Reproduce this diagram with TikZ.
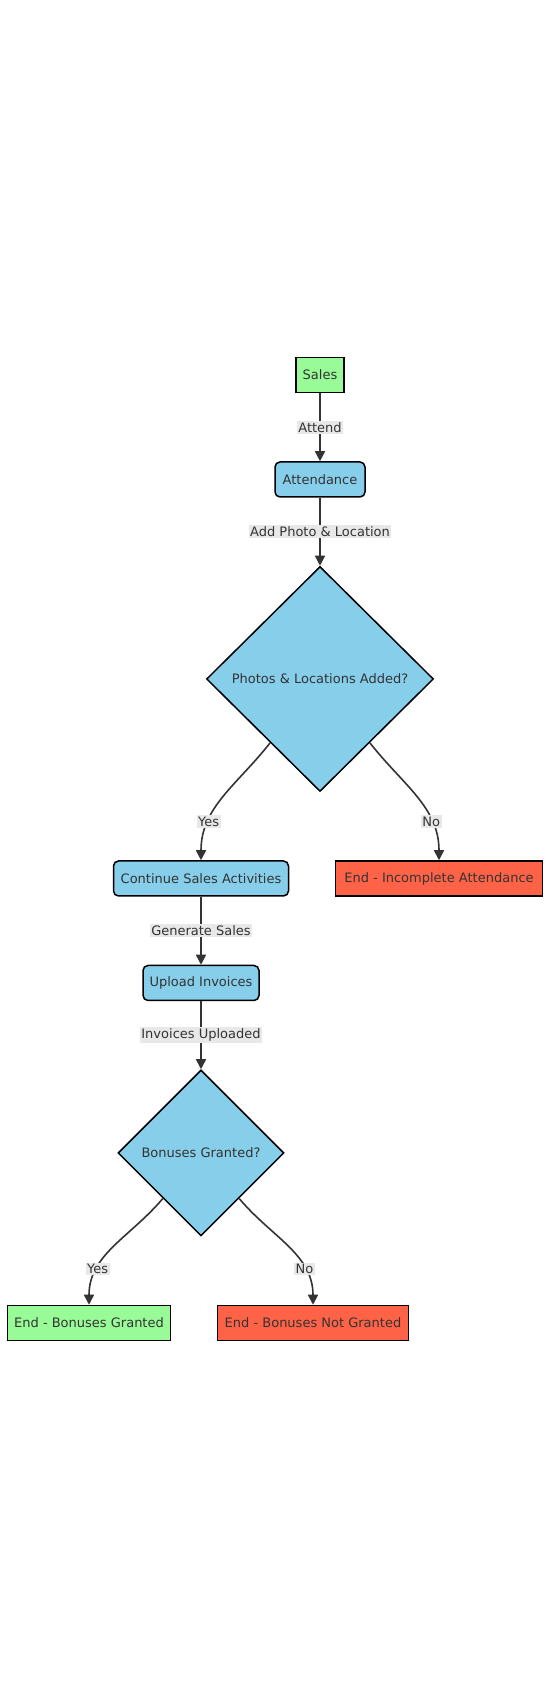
\documentclass[tikz,border=0pt]{standalone}
\usepackage{fontspec}
\setmainfont{DejaVu Sans}
\usepackage{xcolor}
\usetikzlibrary{shapes.geometric, arrows.meta, positioning}
\definecolor{FlowGreen}{HTML}{98FB98}
\definecolor{FlowBlue}{HTML}{87CEEB}
\definecolor{FlowRed}{HTML}{FF6347}
\definecolor{FlowText}{HTML}{333333}
\definecolor{FlowLabel}{HTML}{E8E8E8}

\begin{document}
\begin{tikzpicture}[x=1pt, y=1pt, node distance=68pt, every node/.style={font=\fontsize{13}{15}\selectfont, text=FlowText}, >={Triangle[length=10pt, width=10pt]}]
      \tikzset{
        startbox/.style={rectangle, draw=black, line width=1.5pt, fill=FlowGreen, minimum height=35pt, align=center},
        procbox/.style={rectangle, rounded corners=5pt, draw=black, line width=1.5pt, fill=FlowBlue, minimum height=35pt, align=center},
        failbox/.style={rectangle, draw=black, line width=1.5pt, fill=FlowRed, minimum height=35pt, align=center},
        decision/.style={diamond, draw=black, line width=1.5pt, fill=FlowBlue, inner sep=0pt, align=center},
        arrow/.style={->, line width=1.6pt, draw=FlowText},
        lbl/.style={fill=FlowLabel, inner sep=1.5pt}
      }
      \useasboundingbox (0,0) rectangle (550,1699);

      \node[startbox, minimum width=48pt] (sales) at (320,1324) {Sales};
      \node[procbox, minimum width=90pt, below=of sales] (attend) {Attendance};
      \node[decision, minimum width=227pt, minimum height=225pt, below=of attend] (checkphoto) {Photos \& Locations Added?};
      \node[procbox, minimum width=175pt, below=of checkphoto, xshift=-119pt] (contsales) {Continue Sales Activities};
      \node[failbox, minimum width=207pt, below=of checkphoto, xshift=119pt] (incomplete) {End - Incomplete Attendance};
      \node[procbox, minimum width=116pt, below=of contsales] (upload) {Upload Invoices};
      \node[decision, minimum width=166pt, minimum height=166pt, below=of upload] (checkbonus) {Bonuses Granted?};
      \node[startbox, minimum width=163pt, below=of checkbonus, xshift=-112pt] (granted) {End - Bonuses Granted};
      \node[failbox, minimum width=191pt, below=of checkbonus, xshift=112pt] (notgranted) {End - Bonuses Not Granted};

      \draw[arrow] (sales) -- node[lbl] {Attend} (attend);
      \draw[arrow] (attend) -- node[lbl] {Add Photo \& Location} (checkphoto);
      \draw[arrow] (checkphoto) to[out=-128, in=90] node[lbl, pos=0.72] {Yes} (contsales);
      \draw[arrow] (checkphoto) to[out=-52, in=90] node[lbl, pos=0.72] {No} (incomplete);
      \draw[arrow] (contsales) -- node[lbl] {Generate Sales} (upload);
      \draw[arrow] (upload) -- node[lbl] {Invoices Uploaded} (checkbonus);
      \draw[arrow] (checkbonus) to[out=-130, in=90] node[lbl, pos=0.72] {Yes} (granted);
      \draw[arrow] (checkbonus) to[out=-50, in=90] node[lbl, pos=0.72] {No} (notgranted);
    \end{tikzpicture}
\end{document}
